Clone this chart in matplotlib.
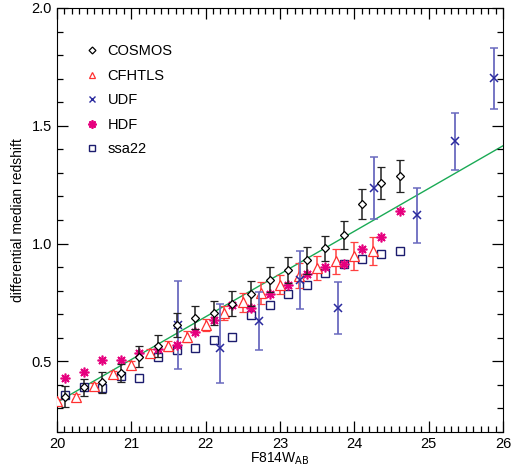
import numpy as np
from matplotlib import pyplot as plt
from matplotlib.ticker import MultipleLocator
from matplotlib.lines import Line2D

plt.rcParams['font.family'] = ['Liberation Sans', 'DejaVu Sans']

# COSMOS
cosmos_x = [20.11, 20.36, 20.61, 20.86, 21.11, 21.36, 21.61, 21.86, 22.11, 22.36,
            22.61, 22.86, 23.11, 23.36, 23.61, 23.86, 24.11, 24.36, 24.61]
cosmos_y = [0.35, 0.39, 0.41, 0.45, 0.52, 0.565, 0.655, 0.685, 0.705, 0.745,
            0.787, 0.847, 0.887, 0.928, 0.979, 1.037, 1.167, 1.257, 1.285]
cosmos_err = [0.045, 0.036, 0.046, 0.039, 0.045, 0.047, 0.05, 0.049, 0.05, 0.052,
              0.053, 0.054, 0.056, 0.056, 0.055, 0.06, 0.065, 0.068, 0.068]

# CFHTLS
cfhtls_x = [20.0, 20.25, 20.5, 20.75, 21.0, 21.25, 21.5, 21.75, 22.0, 22.25,
            22.5, 22.75, 23.0, 23.25, 23.5, 23.75, 24.0, 24.25]
cfhtls_y = [0.33, 0.35, 0.395, 0.445, 0.485, 0.535, 0.565, 0.605, 0.655, 0.705,
            0.751, 0.791, 0.826, 0.864, 0.897, 0.925, 0.946, 0.967]
cfhtls_err = [0.012, 0.012, 0.014, 0.015, 0.017, 0.018, 0.02, 0.022, 0.026, 0.03,
              0.04, 0.047, 0.041, 0.052, 0.05, 0.053, 0.06, 0.06]

# UDF
udf_x = [21.63, 22.19, 22.72, 23.27, 23.78, 24.26, 24.84, 25.35, 25.88]
udf_y = [0.655, 0.557, 0.671, 0.847, 0.728, 1.236, 1.119, 1.434, 1.702]
udf_lo = [0.469, 0.407, 0.548, 0.723, 0.614, 1.105, 1.003, 1.314, 1.572]
udf_hi = [0.84, 0.742, 0.794, 0.967, 0.838, 1.367, 1.236, 1.556, 1.829]

# HDF
hdf_x = cosmos_x
hdf_y = [0.427, 0.455, 0.505, 0.505, 0.537, 0.554, 0.569, 0.626, 0.675, 0.737,
         0.728, 0.787, 0.826, 0.869, 0.901, 0.914, 0.977, 1.028, 1.137]

# ssa22
ssa_x = cosmos_x
ssa_y = [0.357, 0.389, 0.386, 0.438, 0.427, 0.518, 0.548, 0.558, 0.589, 0.605,
         0.696, 0.737, 0.787, 0.826, 0.876, 0.911, 0.936, 0.956, 0.967]

# linear fit line
fit_x = [20.0, 26.0]
fit_y = [0.326, 1.415]

fig = plt.figure(figsize=(5.13, 4.68), dpi=100)
ax = fig.add_axes([0.111, 0.077, 0.8695, 0.906])

ax.plot(fit_x, fit_y, color='#1aaa55', lw=1.0, zorder=1)

ax.errorbar(cosmos_x, cosmos_y, yerr=cosmos_err, fmt='D', ms=4, mfc='white',
            mec='black', mew=0.9, ecolor='#222222', elinewidth=1.1, capsize=3,
            capthick=1.1, zorder=5)
ax.errorbar(cfhtls_x, cfhtls_y, yerr=cfhtls_err, fmt='^', ms=6.5, mfc='white',
            mec='#ff3030', mew=0.9, ecolor='#ff4040', elinewidth=1.1, capsize=3,
            capthick=1.1, zorder=3)
udf_err = [np.array(udf_y) - np.array(udf_lo), np.array(udf_hi) - np.array(udf_y)]
ax.errorbar(udf_x, udf_y, yerr=udf_err, fmt='x', ms=6, mec='#2a2a9e', mew=1.1,
            ecolor='#6a6abf', elinewidth=1.3, capsize=3, capthick=1.3, zorder=4)
ax.plot(hdf_x, hdf_y, ls='none', marker=(8, 2, 0), ms=7, mec='#e6007e', mew=1.2,
        zorder=4)
ax.plot(ssa_x, ssa_y, ls='none', marker='s', ms=5.5, mfc='white', mec='#1c1c6e',
        mew=1.0, zorder=2)

ax.set_xlim(20, 26)
ax.set_ylim(0.2, 2.0)
ax.xaxis.set_major_locator(MultipleLocator(1))
ax.xaxis.set_minor_locator(MultipleLocator(0.1))
ax.yaxis.set_major_locator(MultipleLocator(0.5))
ax.yaxis.set_minor_locator(MultipleLocator(0.1))
ax.tick_params(which='both', direction='in', top=True, right=True, labelsize=10.5,
               width=0.9)
ax.tick_params(which='major', length=8)
ax.tick_params(which='minor', length=4)
ax.yaxis.set_major_formatter(plt.FormatStrFormatter('%.1f'))
ax.xaxis.set_major_formatter(plt.FormatStrFormatter('%d'))

ax.set_xlabel('F814W$_{\\mathrm{AB}}$', fontsize=10, labelpad=0)
ax.set_ylabel('differential median redshift', fontsize=10, labelpad=5)

handles = [
    Line2D([], [], ls='none', marker='D', ms=3.5, mfc='white', mec='black', mew=0.9),
    Line2D([], [], ls='none', marker='^', ms=5, mfc='white', mec='#ff3030', mew=0.9),
    Line2D([], [], ls='none', marker='x', ms=5, mec='#2a2a9e', mew=1.0),
    Line2D([], [], ls='none', marker=(8, 2, 0), ms=6, mec='#e6007e', mew=1.3),
    Line2D([], [], ls='none', marker='s', ms=5, mfc='white', mec='#1c1c6e', mew=1.0),
]
labels = ['COSMOS', 'CFHTLS', 'UDF', 'HDF', 'ssa22']
ax.legend(handles, labels, loc='upper left', bbox_to_anchor=(0.035, 0.945),
          frameon=False, fontsize=10.5, handlelength=0.8, handletextpad=0.7,
          labelspacing=0.72, numpoints=1)

fig.savefig('out.png', dpi=100)
